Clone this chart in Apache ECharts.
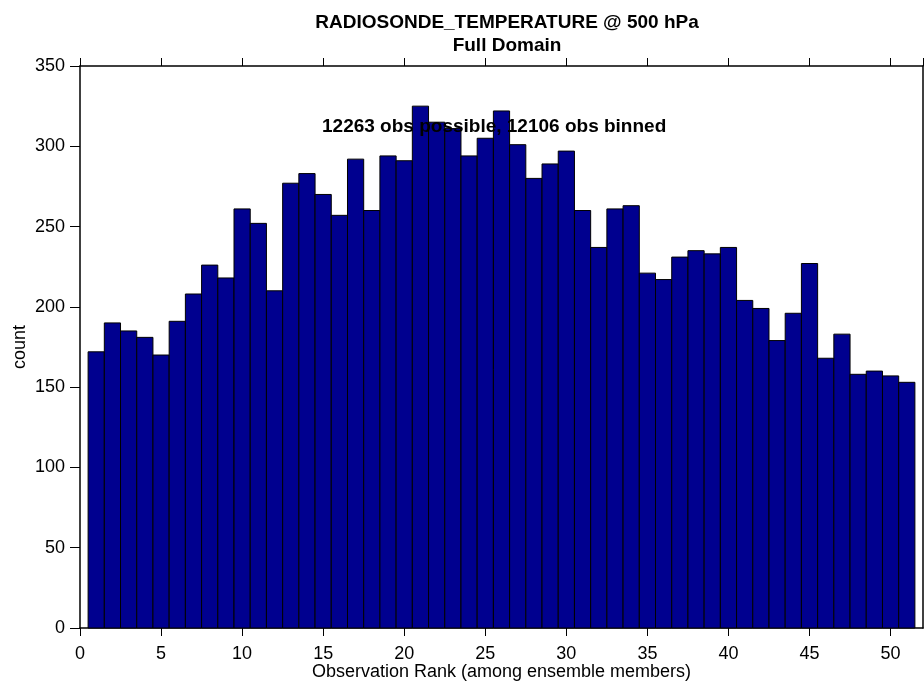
<!DOCTYPE html>
<html>
<head>
<meta charset="utf-8">
<script src="https://cdn.jsdelivr.net/npm/echarts@6/dist/echarts.min.js"></script>
<style>
  html, body { margin: 0; padding: 0; background: #fff; }
  #chart { width: 924px; height: 682px; }
</style>
</head>
<body>
<div id="chart"></div>
<script>
// rank histogram values
const ranks = [];
for (let r = 1; r <= 51; r++) ranks.push(r);
const counts = [
  172, 190, 185, 181, 170, 191, 208, 226, 218, 261,
  252, 210, 277, 283, 270, 257, 292, 260, 294, 291,
  325, 315, 311, 294, 305, 322, 301, 280, 289, 297,
  260, 237, 261, 263, 221, 217, 231, 235, 233, 237,
  204, 199, 179, 196, 227, 168, 183, 158, 160, 157,
  153
];
const titleText = "RADIOSONDE_TEMPERATURE @ 500 hPa";
const subText = "Full Domain";
const noteText = "12263 obs possible, 12106 obs binned";

const font = "'Liberation Sans', Arial, Helvetica, sans-serif";
const chart = echarts.init(document.getElementById("chart"));

const option = {
  animation: false,
  textStyle: { fontFamily: font },
  title: [
    {
      text: titleText,
      subtext: subText,
      left: 502, top: 7, textAlign: "center",
      itemGap: 2,
      textStyle: { fontSize: 19, fontWeight: "bold", color: "#000", fontFamily: font, lineHeight: 21 },
      subtextStyle: { fontSize: 19, fontWeight: "bold", color: "#000", fontFamily: font, lineHeight: 21 }
    },
    {
      text: noteText,
      left: 317, top: 112,
      textStyle: { fontSize: 19, fontWeight: "bold", color: "#000", fontFamily: font },
      z: 10
    }
  ],
  grid: { left: 80, right: 1, top: 66, bottom: 54, containLabel: false, outerBoundsMode: "none" },
  xAxis: [
    {
      type: "value", min: 0, max: 52, interval: 5,
      name: "Observation Rank (among ensemble members)",
      nameLocation: "middle", nameGap: 35, nameMoveOverlap: false,
      nameTextStyle: { fontSize: 18, color: "#000", fontFamily: font },
      axisLine: { onZero: false, lineStyle: { color: "#000", width: 1.5 } },
      axisTick: { inside: false, length: 8, lineStyle: { color: "#000" } },
      axisLabel: { fontSize: 18, color: "#000", margin: 17, showMaxLabel: false, fontFamily: font },
      splitLine: { show: false }
    },
    {
      type: "value", min: 0, max: 52, interval: 5, position: "top",
      axisLine: { onZero: false, lineStyle: { color: "#000", width: 1.5 } },
      axisTick: { inside: false, length: 8, lineStyle: { color: "#000" } },
      axisLabel: { show: false },
      splitLine: { show: false }
    }
  ],
  yAxis: [
    {
      type: "value", min: 0, max: 350, interval: 50,
      name: "count", nameLocation: "middle", nameGap: 51, nameRotate: 90, nameMoveOverlap: false,
      nameTextStyle: { fontSize: 18, color: "#000", fontFamily: font },
      axisLine: { show: true, onZero: false, lineStyle: { color: "#000", width: 1.5 } },
      axisTick: { show: true, inside: false, length: 10, lineStyle: { color: "#000" } },
      axisLabel: { fontSize: 18, color: "#000", margin: 15, fontFamily: font },
      splitLine: { show: false }
    },
    {
      type: "value", min: 0, max: 350, interval: 50, position: "right",
      axisLine: { show: true, onZero: false, lineStyle: { color: "#000", width: 1.5 } },
      axisTick: { show: false },
      axisLabel: { show: false },
      splitLine: { show: false }
    }
  ],
  series: [
    {
      type: "custom",
      xAxisIndex: 0, yAxisIndex: 0,
      data: ranks.map((r, i) => [r, counts[i]]),
      renderItem: function (params, api) {
        const r = api.value(0);
        const p0 = api.coord([r - 0.5, api.value(1)]);
        const p1 = api.coord([r + 0.5, 0]);
        return {
          type: "rect",
          shape: { x: p0[0], y: p0[1], width: p1[0] - p0[0], height: p1[1] - p0[1] },
          style: { fill: "#00008f", stroke: "#000", lineWidth: 1 }
        };
      }
    }
  ]
};
chart.setOption(option);
</script>
</body>
</html>
